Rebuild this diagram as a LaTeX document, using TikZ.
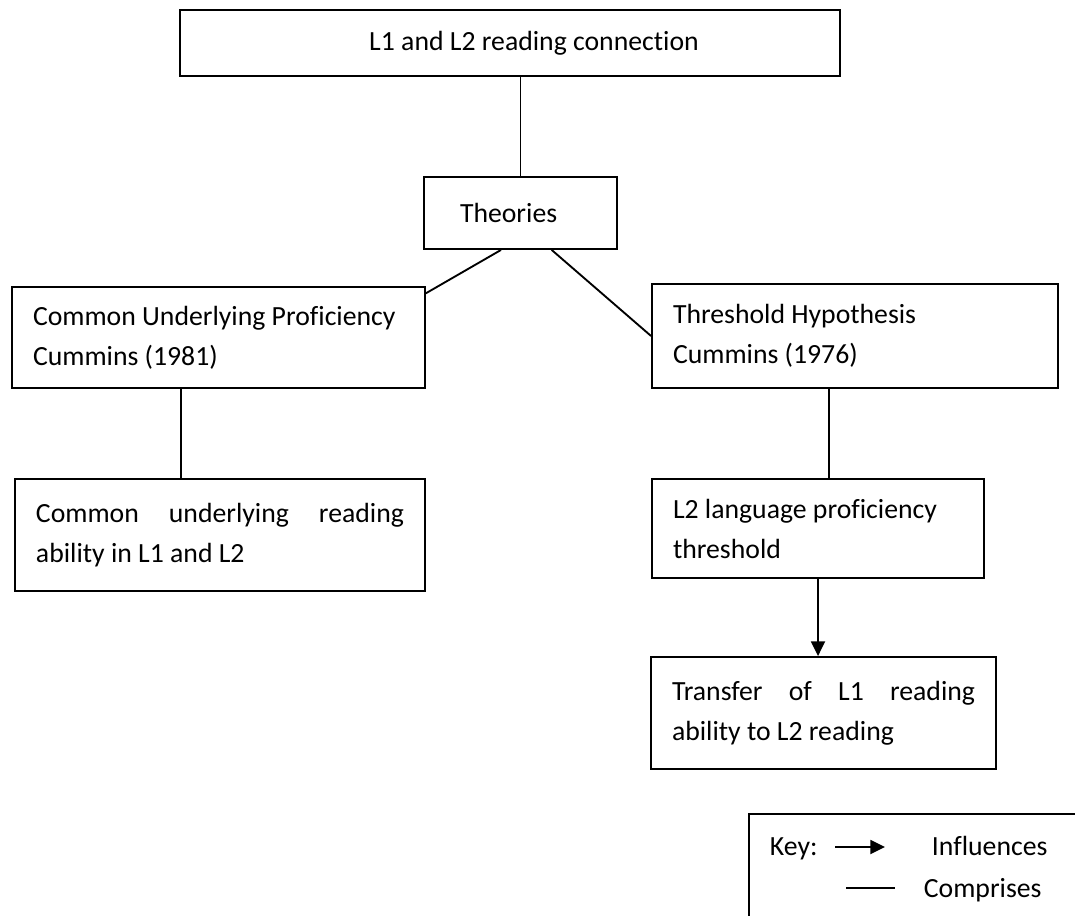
\documentclass[tikz,border=0pt]{standalone}
\usepackage{fontspec}
\setmainfont{Carlito}[RawFeature={-liga;-clig;-dlig}]
\usetikzlibrary{arrows.meta,calc}
\hyphenpenalty=10000
\hbadness=10000
\begin{document}
\begin{tikzpicture}[x=0.75pt,y=-0.75pt,
          line width=1.4pt,
          font=\fontsize{20.8}{30}\selectfont,
          >={Triangle[length=11pt,width=10.5pt]},
          plainbox/.style={rectangle, draw=black, line width=1.4pt,
            inner xsep=15.75pt, inner ysep=0pt},
          leftbox/.style={plainbox, align=flush left},
          justbox/.style={plainbox, align=justify},
          keytext/.style={anchor=base west, inner sep=0pt}]

        \clip (0,0) rectangle (1075,915);

        \node[plainbox, align=center, minimum width=495pt, minimum height=49.5pt]
              (title) at (510,43) {\hspace*{36pt}L1 and L2 reading connection};
        \node[leftbox, inner xsep=27pt, text width=90.75pt, minimum height=54pt]
              (theories) at (520.5,213) {Theories};

        \node[leftbox, text width=278.25pt, minimum height=75.75pt]
              (cup) at (218.5,337.5) {Common Underlying Proficiency\\Cummins (1981)};
        \node[leftbox, text width=273pt, minimum height=78pt]
              (thr) at (855,336) {Threshold Hypothesis\\Cummins (1976)};

        \node[justbox, text width=276pt, minimum height=84pt]
              (cura) at (220,535) {Common underlying reading ability in L1 and L2};
        \node[leftbox, text width=217.5pt, minimum height=74.25pt]
              (l2thr) at (818,528.5) {L2 language proficiency\\threshold};
        \node[justbox, text width=227.25pt, minimum height=84pt]
              (transfer) at (823.5,713) {Transfer of L1 reading ability to L2 reading};

        \draw (title.south -| theories.north) -- (theories.north);
        \draw ($(theories.south west)!0.4!(theories.south east)$)
              -- ($(cup.north east)!0.07!(cup.south east)$);
        \draw ($(theories.south west)!0.66!(theories.south east)$) -- (thr.west);

        \coordinate (cupdown) at ($(cup.south west)!0.41!(cup.south east)$);
        \draw (cupdown) -- (cupdown |- cura.north);
        \coordinate (thrdown) at ($(thr.south west)!0.436!(thr.south east)$);
        \draw (thrdown) -- (thrdown |- l2thr.north);
        \draw[->] (l2thr.south) -- (l2thr.south |- transfer.north);

        % key
        \node[rectangle, draw=black, line width=1.4pt, anchor=north west,
              minimum width=264pt, minimum height=97.5pt] (keybox) at (748,813) {};
        \node[keytext] (keylbl) at (769,855) {Key:};
        \node[keytext] (infl)   at (931,855) {Influences};
        \node[keytext] (compr)  at (923,897) {Comprises};
        \coordinate (ka) at (835,847);
        \coordinate (kb) at (885,847);
        \coordinate (kc) at (846,888);
        \coordinate (kd) at (895,888);
        \draw[->] (ka) -- (kb);
        \draw (kc) -- (kd);

      \end{tikzpicture}
\end{document}
